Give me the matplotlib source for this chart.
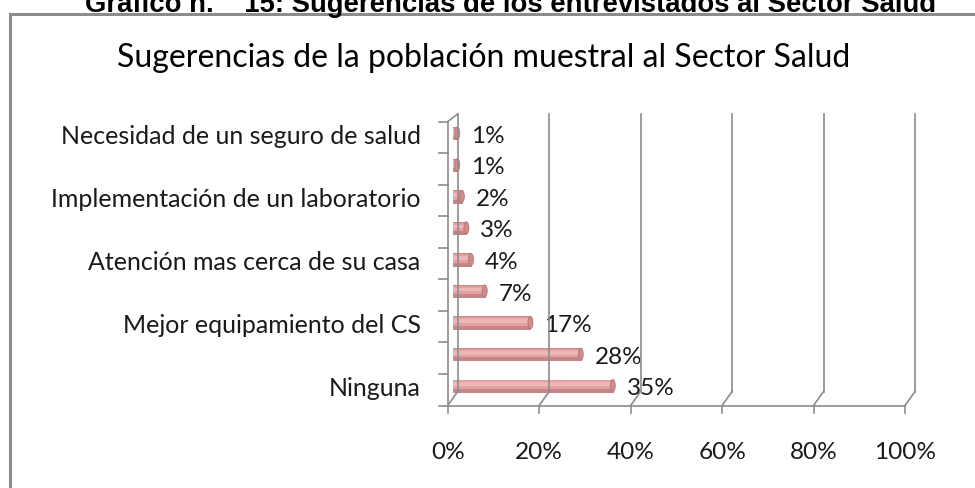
import matplotlib
matplotlib.use("Agg")
import matplotlib.pyplot as plt
from matplotlib.transforms import Affine2D
from matplotlib.patches import Ellipse
from matplotlib.lines import Line2D

# -----------------------------
# DATA
# -----------------------------
categories = ["Ninguna", "", "Mejor equipamiento del CS", "",
              "Atención mas cerca de su casa", "",
              "Implementación de un laboratorio", "",
              "Necesidad de un seguro de salud"]
values = [35, 28, 17, 7, 4, 3, 2, 1, 1]
x_ticks = [0, 20, 40, 60, 80, 100]
x_labels = ["0%", "20%", "40%", "60%", "80%", "100%"]

header = "Grafico n.    15: Sugerencias de los entrevistados al Sector Salud"
title = "Sugerencias de la población muestral al Sector Salud"

FONT = "Lato"
GRID = "#8c8c8c"
TXT = "#1a1a1a"

# -----------------------------
# FIGURE
# -----------------------------
W, H = 975, 488
fig = plt.figure(figsize=(W / 100, H / 100), dpi=100)

# front plane of the plot in pixels (top-origin)
x0, x1 = 447.7, 905.0
ytop, ybot = 121.5, 405.5
ax = fig.add_axes([x0 / W, (H - ybot) / H, (x1 - x0) / W, (ybot - ytop) / H])
ax.set_xlim(0, 100)
ax.set_ylim(-0.5, len(values) - 0.5)
ax.axis("off")

def off(dx, dy):
    return ax.transData + Affine2D().translate(dx, dy)

def pxline(p, q, **kw):
    fig.add_artist(Line2D([p[0] / W, q[0] / W], [p[1] / H, q[1] / H],
                          transform=fig.transFigure, **kw))

n = len(values)
ymin, ymax = -0.5, n - 0.5

# chart frame (only top and left edges visible)
pxline((10, H - 14), (W, H - 14), color=GRID, lw=2.2)
pxline((10, 0), (10, H - 14), color=GRID, lw=2.2)

# -----------------------------
# 3D WALLS / GRID
# -----------------------------
lw = 1.2
for xv in x_ticks:
    b = off(10, 14).transform((xv, ymin))
    t = off(10, 7.5).transform((xv, ymax))
    f = ax.transData.transform((xv, ymin))
    pxline(b, t, color=GRID, lw=lw)                       # back wall
    pxline(f, b, color=GRID, lw=lw)                       # floor diagonal
    pxline(f, (f[0], f[1] - 7), color=GRID, lw=lw)        # tick

# front bottom axis and left axis
ax.plot([0, 100], [ymin, ymin], color=GRID, lw=lw, clip_on=False)
ax.plot([0, 0], [ymin, ymax], color=GRID, lw=lw, clip_on=False)
pxline(ax.transData.transform((0, ymax)), off(10, 7.5).transform((0, ymax)),
       color=GRID, lw=lw)
for k in range(n + 1):
    p = ax.transData.transform((0, ymin + k))
    pxline((p[0] - 9, p[1]), p, color=GRID, lw=lw)

# -----------------------------
# BARS (cylinders)
# -----------------------------
bh = 0.39
bt_ = off(5, 4)
ypos = list(range(n))
ax.barh(ypos, values, height=bh, color="#c98585", edgecolor="#b07070",
        lw=0.5, transform=bt_, clip_on=False, zorder=3)
ax.barh([y + bh * 0.08 for y in ypos], values, height=bh * 0.7,
        color="#e3a2a2", lw=0, transform=bt_, clip_on=False, zorder=4)
ax.barh([y + bh * 0.12 for y in ypos], values, height=bh * 0.3,
        color="#eeb6b6", lw=0, transform=bt_, clip_on=False, zorder=5)
for y, v in zip(ypos, values):
    ax.add_patch(Ellipse((v, y), 1.1, bh, facecolor="#d08c8c",
                         edgecolor="#b07070", lw=0.5, transform=bt_,
                         clip_on=False, zorder=6))
    ax.text(v, y, f"{v}%", transform=off(19, 1), ha="left", va="center",
            fontsize=17.5, family=FONT, color=TXT)

# -----------------------------
# LABELS
# -----------------------------
for y, c in zip(ypos, categories):
    if c:
        ax.text(0, y, c, transform=off(-27, 1), ha="right", va="center",
                fontsize=18, family=FONT, color=TXT)
for xv, lab in zip(x_ticks, x_labels):
    ax.text(xv, ymin, lab, transform=off(0, -47), ha="center", va="center",
            fontsize=17.6, family=FONT, color=TXT)

fig.text(484 / W, (H - 58) / H, title, ha="center", va="center",
         fontsize=23, family=FONT, color="black")
# page caption above the chart, cut at the top edge as in the source
fig.text(511 / W, (H - 12) / H, header, ha="center", va="baseline",
         fontsize=19.8, family="Liberation Sans", weight="bold", color="black")

fig.savefig("out.png", dpi=100)
